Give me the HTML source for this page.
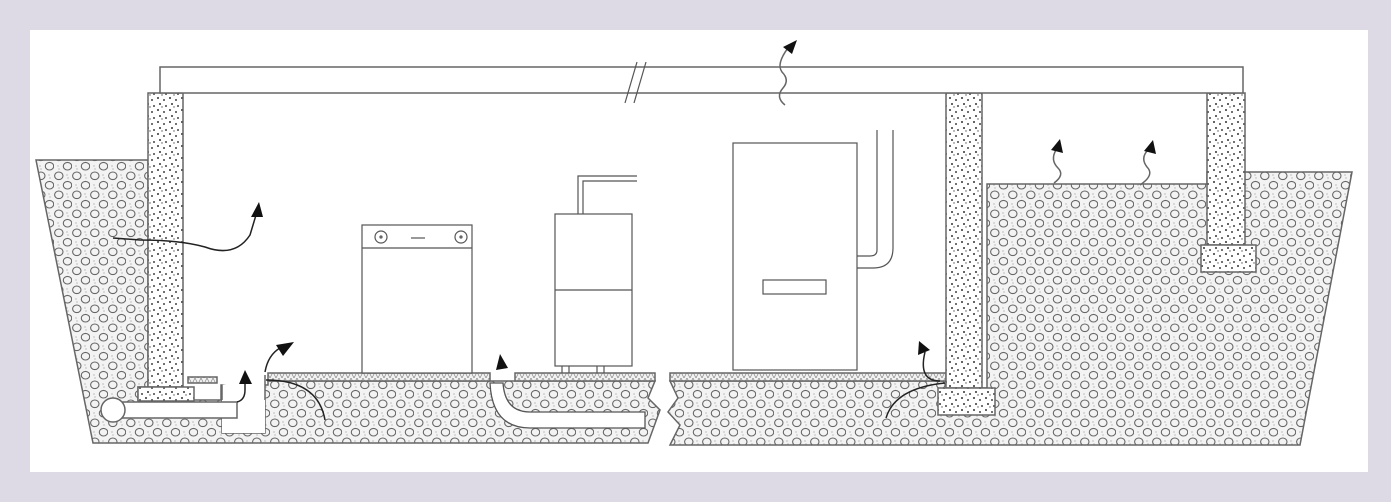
<!DOCTYPE html>
<html><head><meta charset="utf-8"><style>
html,body{margin:0;padding:0;background:#dddae6;}
svg{display:block}
</style></head><body>
<svg width="1391" height="502" viewBox="0 0 1391 502" xmlns="http://www.w3.org/2000/svg">
<defs>
<pattern id="soil" width="18" height="19" patternUnits="userSpaceOnUse">
<rect width="18" height="19" fill="#f3f3f3"/>
<ellipse cx="4.8" cy="4.8" rx="4.2" ry="3.8" fill="none" stroke="#666" stroke-width="1.1"/>
<ellipse cx="13.5" cy="14.2" rx="4.2" ry="3.8" fill="none" stroke="#666" stroke-width="1.1"/>
<circle cx="13" cy="4" r="0.6" fill="#999"/><circle cx="14" cy="7" r="0.6" fill="#999"/><circle cx="4" cy="14" r="0.6" fill="#999"/><circle cx="5" cy="17" r="0.6" fill="#999"/>
</pattern>
<pattern id="conc" width="12" height="12" patternUnits="userSpaceOnUse">
<rect width="12" height="12" fill="#fff"/>
<circle cx="2" cy="2" r="1" fill="#333"/><circle cx="8" cy="4" r="1" fill="#444"/>
<circle cx="4" cy="8" r="1" fill="#333"/><circle cx="10" cy="10" r="1" fill="#444"/>
<circle cx="6" cy="11" r="0.7" fill="#555"/>
</pattern>
<pattern id="hatch" width="6" height="6" patternUnits="userSpaceOnUse">
<rect width="6" height="6" fill="#f2f2f2"/>
<path d="M0 6 L3 0 L6 6" fill="none" stroke="#888" stroke-width="0.7"/>
</pattern>
</defs>
<rect x="30" y="30" width="1338" height="442" fill="#fff"/>
<g stroke="#666" stroke-width="1.5">
<polygon points="36,160 148,160 148,387 138,387 138,400 194,400 221,400 221,385 268,385 268,381 655,381 648,398 660,410 648,443 93,443" fill="url(#soil)"/>
<polygon points="670,381 946,381 946,388 982,388 987,388 987,184 1207,184 1207,172 1352,172 1300,445 670,445 680,425 668,412 678,398" fill="url(#soil)"/>
<rect x="268" y="373" width="222" height="8" fill="url(#hatch)"/>
<rect x="515" y="373" width="140" height="8" fill="url(#hatch)"/>
<rect x="670" y="373" width="276" height="8" fill="url(#hatch)"/>
<path d="M222,385 L222,433 L265,433 L265,375" fill="#fff"/>
<rect x="222" y="400" width="43" height="33" fill="#fff" stroke="none"/>
<rect x="148" y="93" width="35" height="294" fill="url(#conc)"/>
<rect x="138" y="387" width="56" height="14" fill="url(#conc)"/>
<rect x="188" y="377" width="29" height="6" fill="url(#hatch)"/>
<rect x="113" y="402" width="124" height="16" fill="#fff"/>
<circle cx="113" cy="410" r="12" fill="#fff"/>
<rect x="946" y="93" width="36" height="295" fill="url(#conc)"/>
<rect x="938" y="388" width="57" height="27" fill="url(#conc)"/>
<rect x="1207" y="93" width="38" height="152" fill="url(#conc)"/>
<rect x="1201" y="245" width="55" height="27" fill="url(#conc)"/>
<rect x="160" y="67" width="1083" height="26" fill="#fff"/>
</g>
<g stroke="#555" stroke-width="1.2" fill="none">
<line x1="625" y1="103" x2="637" y2="62"/><line x1="634" y1="103" x2="646" y2="62"/>
<rect x="362" y="225" width="110" height="148" fill="#fff"/>
<line x1="362" y1="248" x2="472" y2="248"/>
<circle cx="381" cy="237" r="6"/><circle cx="461" cy="237" r="6"/>
<circle cx="381" cy="237" r="1"/><circle cx="461" cy="237" r="1"/>
<line x1="411" y1="238" x2="425" y2="238" stroke-width="2" stroke="#999"/>
<rect x="555" y="214" width="77" height="152" fill="#fff"/>
<line x1="555" y1="290" x2="632" y2="290"/>
<line x1="562" y1="366" x2="562" y2="373"/><line x1="569" y1="366" x2="569" y2="373"/>
<line x1="597" y1="366" x2="597" y2="373"/><line x1="604" y1="366" x2="604" y2="373"/>
<path d="M578,214 V176 H637 M583,214 V181 H637"/>
<rect x="733" y="143" width="124" height="227" fill="#fff"/>
<rect x="763" y="280" width="63" height="14"/>
<path d="M877,130 V250 Q877,256 870,256 H857 M893,130 V248 Q893,268 873,268 H857"/>
</g>
<path d="M490,383 Q492,428 530,428 L645,428 L645,412 L530,412 Q505,412 503,383 Z" fill="#fff" stroke="#555" stroke-width="1.3"/>
<g stroke="#222" stroke-width="1.5" fill="none">
<path d="M113,238 L140,240 Q180,240 205,247 Q235,258 250,235 L256,215"/>
<path d="M237,402 Q245,400 245,390 L245,380"/>
<path d="M265,372 Q268,355 280,348"/>
<path d="M266,380 Q318,380 325,420"/>
<path d="M940,381 Q918,381 925,352" />
<path d="M945,383 Q895,388 886,418"/>
<path d="M785,105 Q775,97 783,88 Q790,80 782,72 Q776,64 788,48" stroke="#666"/>
<path d="M1054,183 Q1065,175 1058,168 Q1050,160 1056,150" stroke="#666"/>
<path d="M1140,185 Q1155,175 1147,167 Q1140,158 1148,150" stroke="#666"/>
</g>
<g fill="#111">
<polygon points="259,202 251,217 263,217"/>
<polygon points="245,370 239,384 252,384"/>
<polygon points="294,342 276,345 283,356"/>
<polygon points="500,354 496,370 508,368"/>
<polygon points="919,341 918,355 930,350"/>
<polygon points="797,40 783,47 792,54"/>
<polygon points="1060,139 1051,150 1063,153"/>
<polygon points="1153,140 1144,151 1156,154"/>
</g>
</svg>
</body></html>
